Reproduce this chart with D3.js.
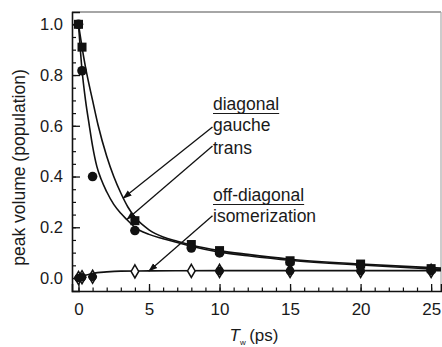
<!DOCTYPE html>
<html><head><meta charset="utf-8">
<script src="https://cdn.jsdelivr.net/npm/d3@7"></script>
<style>
html,body{margin:0;padding:0;background:#fff;}
text{font-family:"Liberation Sans",Arial,Helvetica,sans-serif;fill:#1a1a1a;}
</style></head>
<body>
<svg id="chart" width="442" height="347"></svg>
<script>
// ---- data ----
const gaucheT = [0, 0.25, 4, 8, 10, 15, 20, 25];
const gaucheV = [1.0, 0.91, 0.226, 0.132, 0.108, 0.068, 0.055, 0.037];
const transT = [0, 0.25, 1, 4, 8, 10, 15, 20, 25];
const transV = [1.0, 0.817, 0.40, 0.187, 0.118, 0.099, 0.062, 0.05, 0.033];
const isoDiamondT = [0, 0.25, 1, 4, 8, 10, 15, 20, 25];
const isoDiamondV = [0.0, 0.003, 0.005, 0.026, 0.028, 0.028, 0.028, 0.028, 0.028];
const isoCircleT = [0, 0.25, 1, 10, 15, 20, 25];
const isoCircleV = [0.0, 0.003, 0.005, 0.028, 0.028, 0.028, 0.028];
// fitted curves
const gaucheFitT = [0, 0.25, 0.5, 1, 1.4, 2, 2.5, 3, 3.5, 4, 5, 6, 7, 8, 10, 12, 15, 20, 25, 25.7];
const gaucheFitV = [1.0, 0.91, 0.83, 0.70, 0.60, 0.48, 0.40, 0.335, 0.28, 0.24, 0.19, 0.162, 0.145, 0.13, 0.108, 0.093, 0.074, 0.055, 0.041, 0.039];
const transFitT = [0, 0.25, 0.5, 0.77, 1, 1.3, 1.6, 2, 2.5, 3, 3.4, 4, 5, 6, 7, 8, 10, 12, 15, 20, 25, 25.7];
const transFitV = [1.0, 0.82, 0.70, 0.60, 0.52, 0.44, 0.39, 0.34, 0.29, 0.255, 0.232, 0.20, 0.172, 0.155, 0.14, 0.125, 0.102, 0.088, 0.07, 0.051, 0.036, 0.034];
const isoFitT = [0, 0.25, 0.5, 1, 2, 3, 5, 10, 25.7];
const isoFitV = [0.0, 0.006, 0.011, 0.018, 0.024, 0.027, 0.028, 0.029, 0.029];
const xTicks = [0, 5, 10, 15, 20, 25];
const yTicks = [0.0, 0.2, 0.4, 0.6, 0.8, 1.0];
const yTickLabels = ["0.0", "0.2", "0.4", "0.6", "0.8", "1.0"];
const annoHeads = ["diagonal", "off-diagonal"];
const annoLabels = ["gauche", "trans", "isomerization"];

// ---- layout ----
const svg = d3.select("#chart");
const L = 72, R = 441, T = 12, B = 291;
const x = d3.scaleLinear().domain([-0.46, 25.7]).range([L, R]);
const y = d3.scaleLinear().domain([-0.0512, 1.0485]).range([B, T]);

// frame
svg.append("line").attr("x1", L).attr("x2", R).attr("y1", T).attr("y2", T).attr("stroke", "#888").attr("stroke-width", 1.5);
svg.append("line").attr("x1", R).attr("x2", R).attr("y1", T).attr("y2", B).attr("stroke", "#aaa").attr("stroke-width", 1.2);

// axes with inward ticks
const xMinor = d3.range(0, 26, 1);
svg.append("g").attr("transform", `translate(0,${B})`)
  .call(d3.axisBottom(x).tickValues(xMinor).tickSize(-3.5).tickFormat(""))
  .call(g => g.select(".domain").remove())
  .call(g => g.selectAll("line").attr("stroke", "#111").attr("stroke-width", 1.2));
svg.append("g").attr("transform", `translate(0,${B})`)
  .call(d3.axisBottom(x).tickValues(xTicks).tickSize(-7).tickPadding(12).tickFormat(d3.format("d")))
  .call(g => g.select(".domain").attr("stroke", "#111").attr("stroke-width", 1.6))
  .call(g => g.selectAll("line").attr("stroke", "#111").attr("stroke-width", 1.3))
  .call(g => g.selectAll("text").attr("font-size", 17).attr("fill", "#1a1a1a").attr("dy", "0.72em"));

const yMinor = d3.range(0, 1.0001, 0.05);
svg.append("g").attr("transform", `translate(${L},0)`)
  .call(d3.axisLeft(y).tickValues(yMinor).tickSize(-4).tickFormat(""))
  .call(g => g.select(".domain").remove())
  .call(g => g.selectAll("line").attr("stroke", "#111").attr("stroke-width", 1.2));
svg.append("g").attr("transform", `translate(${L},0)`)
  .call(d3.axisLeft(y).tickValues(yTicks).tickSize(-8).tickPadding(9).tickFormat((d, i) => yTickLabels[i]))
  .call(g => g.select(".domain").attr("stroke", "#111").attr("stroke-width", 1.6))
  .call(g => g.selectAll("line").attr("stroke", "#111").attr("stroke-width", 1.3))
  .call(g => g.selectAll("text").attr("font-size", 16.5).attr("fill", "#1a1a1a"));

// axis titles
svg.append("text").attr("transform", `translate(25,${(T + B) / 2 + 16}) rotate(-90)`)
  .attr("text-anchor", "middle").attr("font-size", 17.5).text("peak volume (population)");
const xt = svg.append("text").attr("x", 254).attr("y", 341).attr("text-anchor", "middle").attr("font-size", 17);
xt.append("tspan").attr("font-style", "italic").text("T");
xt.append("tspan").attr("font-size", 8).attr("dy", 4).text("w");
xt.append("tspan").attr("dy", -4).text("\u2009(ps)");

// curves
const line = d3.line().x(d => x(d[0])).y(d => y(d[1])).curve(d3.curveMonotoneX);
function drawCurve(ts, vs) {
  svg.append("path").datum(ts.map((t, i) => [t, vs[i]]))
    .attr("d", line).attr("fill", "none").attr("stroke", "#111").attr("stroke-width", 1.6);
}
drawCurve(gaucheFitT, gaucheFitV);
drawCurve(transFitT, transFitV);
drawCurve(isoFitT, isoFitV);

// markers
svg.append("g").selectAll("path").data(isoDiamondT.map((t, i) => [t, isoDiamondV[i]])).join("path")
  .attr("d", d3.symbol(d3.symbolDiamond, 50))
  .attr("transform", d => `translate(${x(d[0])},${y(d[1])})`)
  .attr("fill", "#fff").attr("stroke", "#111").attr("stroke-width", 1.5);
svg.append("g").selectAll("circle").data(isoCircleT.map((t, i) => [t, isoCircleV[i]])).join("circle")
  .attr("cx", d => x(d[0])).attr("cy", d => y(d[1])).attr("r", 4.3).attr("fill", "#111");
svg.append("g").selectAll("rect").data(gaucheT.map((t, i) => [t, gaucheV[i]])).join("rect")
  .attr("x", d => x(d[0]) - 4.5).attr("y", d => y(d[1]) - 4.5).attr("width", 9).attr("height", 9).attr("fill", "#111");
svg.append("g").selectAll("circle").data(transT.map((t, i) => [t, transV[i]])).join("circle")
  .attr("cx", d => x(d[0])).attr("cy", d => y(d[1])).attr("r", 4.8).attr("fill", "#111");

// annotations
const fs = 17.5;
function txt(px, py, s, underline) {
  const t = svg.append("text").attr("x", px).attr("y", py).attr("font-size", fs).text(s);
  if (underline) {
    const w = t.node().getComputedTextLength();
    svg.append("line").attr("x1", px).attr("x2", px + w).attr("y1", py + 3.5).attr("y2", py + 3.5)
      .attr("stroke", "#1a1a1a").attr("stroke-width", 1.2);
  }
}
txt(213, 110, annoHeads[0], true);
txt(213, 131, annoLabels[0], false);
txt(213, 154, annoLabels[1], false);
txt(213, 201, annoHeads[1], true);
txt(213, 222, annoLabels[2], false);

// arrows
svg.append("defs").append("marker").attr("id", "ah").attr("viewBox", "0 0 10 10").attr("refX", 9).attr("refY", 5)
  .attr("markerWidth", 7).attr("markerHeight", 7).attr("orient", "auto-start-reverse")
  .append("path").attr("d", "M0,1.5 L10,5 L0,8.5 Z").attr("fill", "#111");
function arrow(t0, v0, t1, v1) {
  svg.append("line").attr("x1", x(t0)).attr("y1", y(v0)).attr("x2", x(t1)).attr("y2", y(v1))
    .attr("stroke", "#111").attr("stroke-width", 1.3).attr("marker-end", "url(#ah)");
}
arrow(9.5, 0.595, 3.18, 0.315);
arrow(9.5, 0.52, 3.45, 0.232);
arrow(9.5, 0.245, 5.0, 0.028);
</script>
</body></html>
